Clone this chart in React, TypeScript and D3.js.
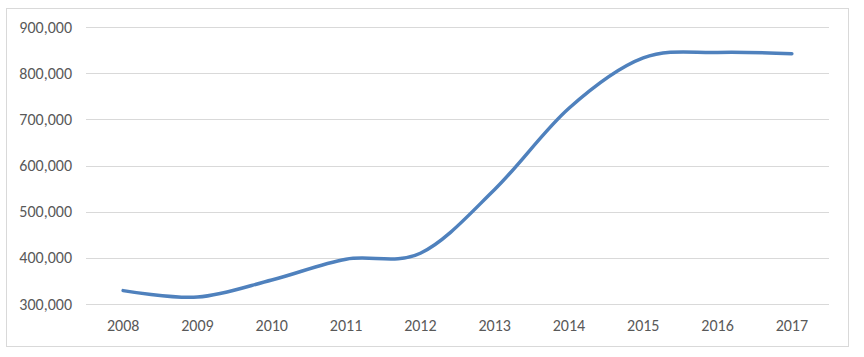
import React from "react";
import * as d3 from "d3";

const years = ["2008", "2009", "2010", "2011", "2012", "2013", "2014", "2015", "2016", "2017"];
const values = [329000, 315000, 352000, 397000, 410000, 548000, 724000, 833000, 845000, 842000];
const yTicks = [300000, 400000, 500000, 600000, 700000, 800000, 900000];

const W = 864;
const H = 357;
const left = 86;
const right = 829;
const top = 27;
const bottom = 304;

export default function App() {
  const x = d3.scaleBand<string>().domain(years).range([left, right]);
  const y = d3.scaleLinear().domain([300000, 900000]).range([bottom, top]);
  const fmt = d3.format(",");
  const line = d3
    .line<number>()
    .x((_, i) => (x(years[i]) as number) + x.bandwidth() / 2)
    .y((d) => y(d))
    .curve(d3.curveCardinal.tension(0));

  return (
    <svg
      width={W}
      height={H}
      style={{ position: "absolute", left: 0, top: 0, fontFamily: "Carlito, Calibri, Lato, 'Liberation Sans', sans-serif" }}
    >
      <rect x={0} y={0} width={W} height={H} fill="#fff" />
      <rect x={6.5} y={8.5} width={842} height={338} fill="none" stroke="#d9d9d9" strokeWidth={1} />
      {yTicks.map((t) => (
        <g key={t}>
          <line x1={left} x2={right} y1={Math.round(y(t)) + 0.5} y2={Math.round(y(t)) + 0.5} stroke="#d9d9d9" strokeWidth={1} />
          <text x={72} y={y(t)} dy="0.35em" textAnchor="end" fontSize={16} fill="#595959">
            {fmt(t)}
          </text>
        </g>
      ))}
      {years.map((yr) => (
        <text
          key={yr}
          x={(x(yr) as number) + x.bandwidth() / 2}
          y={325}
          dy="0.35em"
          textAnchor="middle"
          fontSize={16}
          fill="#595959"
        >
          {yr}
        </text>
      ))}
      <path d={line(values) || ""} fill="none" stroke="#4f81bd" strokeWidth={3.5} strokeLinecap="round" />
    </svg>
  );
}
